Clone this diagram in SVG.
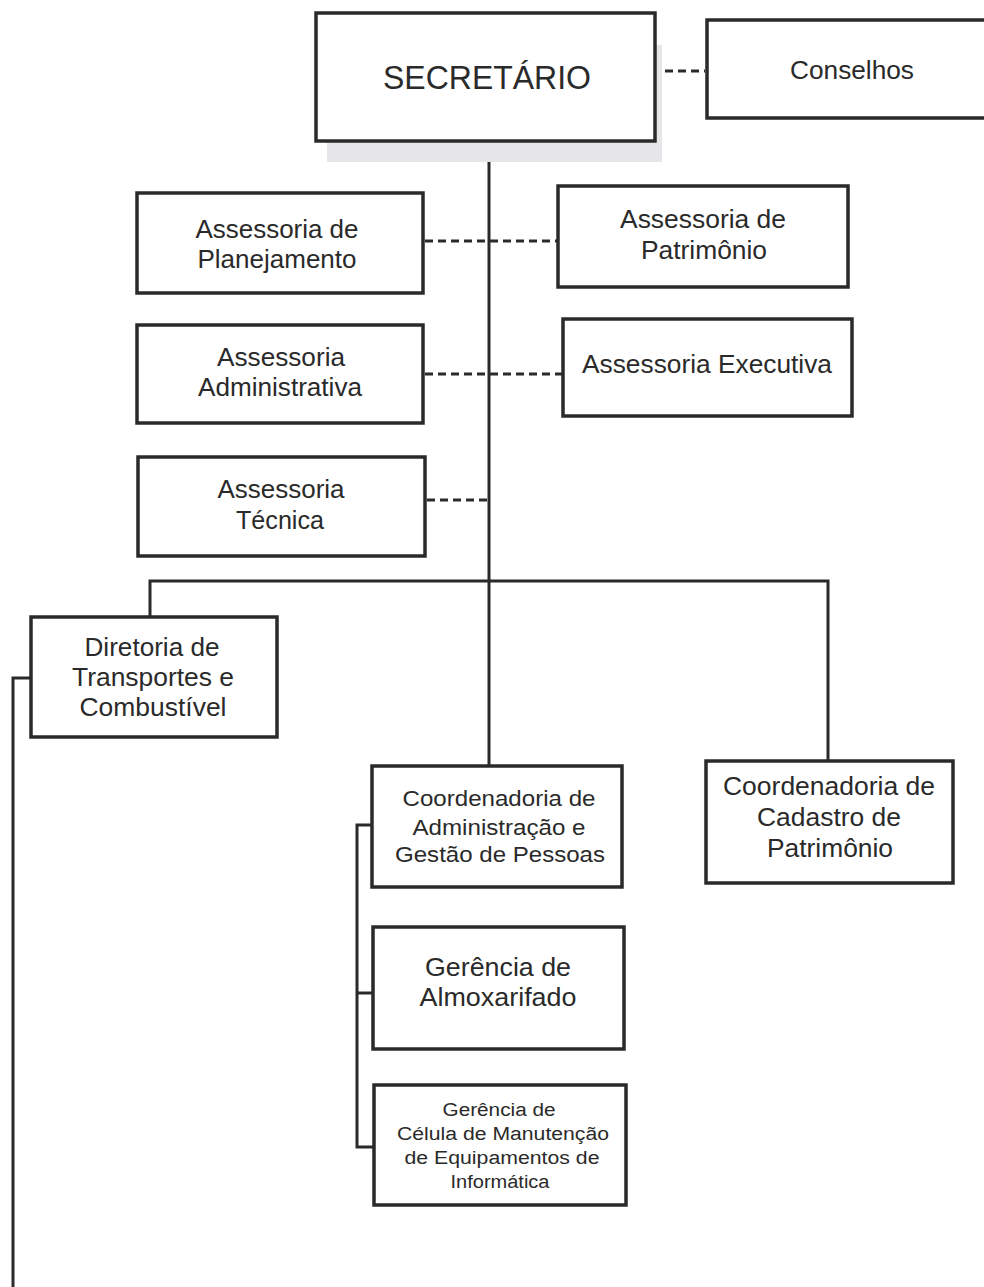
<svg xmlns="http://www.w3.org/2000/svg" width="984" height="1287" viewBox="0 0 984 1287">
<style>
.box{fill:#fff;stroke:#2a2a2a;stroke-width:3.5}
.ln{fill:none;stroke:#2a2a2a;stroke-width:3}
.dash{fill:none;stroke:#2a2a2a;stroke-width:3;stroke-dasharray:8,5}
text{fill:#2a2a2a;text-anchor:middle;font-size:25px}
.big{font-size:33px}
.mid{font-size:22px}
.sm{font-size:18px}
</style>
<rect width="984" height="1287" fill="#fff"/>
<g id="connectors">
<path class="ln" d="M489 141 V766"/>
<path class="dash" d="M665 71 H705"/>
<path class="dash" d="M425 241 H558"/>
<path class="dash" d="M425 374 H563"/>
<path class="dash" d="M427 500 H489"/>
<path class="ln" d="M150 617 V581 H828 V762"/>
<path class="ln" d="M31 678 H13 V1287"/>
<path class="ln" d="M372 825 H357 V1147 H374"/>
<path class="ln" d="M357 993 H373"/>
</g>
<g font-family="'Liberation Sans', Arial, Helvetica, sans-serif">
<g id="secretario">
<rect x="327" y="45" width="335" height="117" fill="#e6e6e8"/>
<rect class="box" x="316" y="13" width="339" height="128"/>
<text class="big" x="487" y="89" textLength="208" lengthAdjust="spacingAndGlyphs">SECRETÁRIO</text>
</g>
<g id="conselhos">
<rect class="box" x="707" y="20" width="285" height="98"/>
<text x="852" y="79" textLength="124" lengthAdjust="spacingAndGlyphs">Conselhos</text>
</g>
<g id="ass-planejamento">
<rect class="box" x="137" y="193" width="286" height="100"/>
<text x="277" y="238" textLength="163" lengthAdjust="spacingAndGlyphs">Assessoria de</text>
<text x="277" y="268" textLength="159" lengthAdjust="spacingAndGlyphs">Planejamento</text>
</g>
<g id="ass-patrimonio">
<rect class="box" x="558" y="186" width="290" height="101"/>
<text x="703" y="228" textLength="166" lengthAdjust="spacingAndGlyphs">Assessoria de</text>
<text x="704" y="259" textLength="126" lengthAdjust="spacingAndGlyphs">Patrimônio</text>
</g>
<g id="ass-administrativa">
<rect class="box" x="137" y="325" width="286" height="98"/>
<text x="281" y="366" textLength="128" lengthAdjust="spacingAndGlyphs">Assessoria</text>
<text x="280" y="396" textLength="164" lengthAdjust="spacingAndGlyphs">Administrativa</text>
</g>
<g id="ass-executiva">
<rect class="box" x="563" y="319" width="289" height="97"/>
<text x="707" y="373" textLength="250" lengthAdjust="spacingAndGlyphs">Assessoria Executiva</text>
</g>
<g id="ass-tecnica">
<rect class="box" x="138" y="457" width="287" height="99"/>
<text x="281" y="498" textLength="127" lengthAdjust="spacingAndGlyphs">Assessoria</text>
<text x="280" y="529" textLength="88" lengthAdjust="spacingAndGlyphs">Técnica</text>
</g>
<g id="diretoria">
<rect class="box" x="31" y="617" width="246" height="120"/>
<text x="152" y="656" textLength="135" lengthAdjust="spacingAndGlyphs">Diretoria de</text>
<text x="153" y="686" textLength="162" lengthAdjust="spacingAndGlyphs">Transportes e</text>
<text x="153" y="716" textLength="147" lengthAdjust="spacingAndGlyphs">Combustível</text>
</g>
<g id="coord-admin">
<rect class="box" x="372" y="766" width="250" height="121"/>
<text class="mid" x="499" y="806" textLength="193" lengthAdjust="spacingAndGlyphs">Coordenadoria de</text>
<text class="mid" x="499" y="835" textLength="173" lengthAdjust="spacingAndGlyphs">Administração e</text>
<text class="mid" x="500" y="862" textLength="210" lengthAdjust="spacingAndGlyphs">Gestão de Pessoas</text>
</g>
<g id="coord-cadastro">
<rect class="box" x="706" y="761" width="247" height="122"/>
<text x="829" y="795" textLength="212" lengthAdjust="spacingAndGlyphs">Coordenadoria de</text>
<text x="829" y="826" textLength="144" lengthAdjust="spacingAndGlyphs">Cadastro de</text>
<text x="830" y="857" textLength="126" lengthAdjust="spacingAndGlyphs">Patrimônio</text>
</g>
<g id="ger-almoxarifado">
<rect class="box" x="373" y="927" width="251" height="122"/>
<text x="498" y="976" textLength="146" lengthAdjust="spacingAndGlyphs">Gerência de</text>
<text x="498" y="1006" textLength="157" lengthAdjust="spacingAndGlyphs">Almoxarifado</text>
</g>
<g id="ger-celula">
<rect class="box" x="374" y="1085" width="252" height="120"/>
<text class="sm" x="499" y="1116" textLength="113" lengthAdjust="spacingAndGlyphs">Gerência de</text>
<text class="sm" x="503" y="1140" textLength="212" lengthAdjust="spacingAndGlyphs">Célula de Manutenção</text>
<text class="sm" x="502" y="1164" textLength="195" lengthAdjust="spacingAndGlyphs">de Equipamentos de</text>
<text class="sm" x="500" y="1188" textLength="99" lengthAdjust="spacingAndGlyphs">Informática</text>
</g>
</g>
</svg>
